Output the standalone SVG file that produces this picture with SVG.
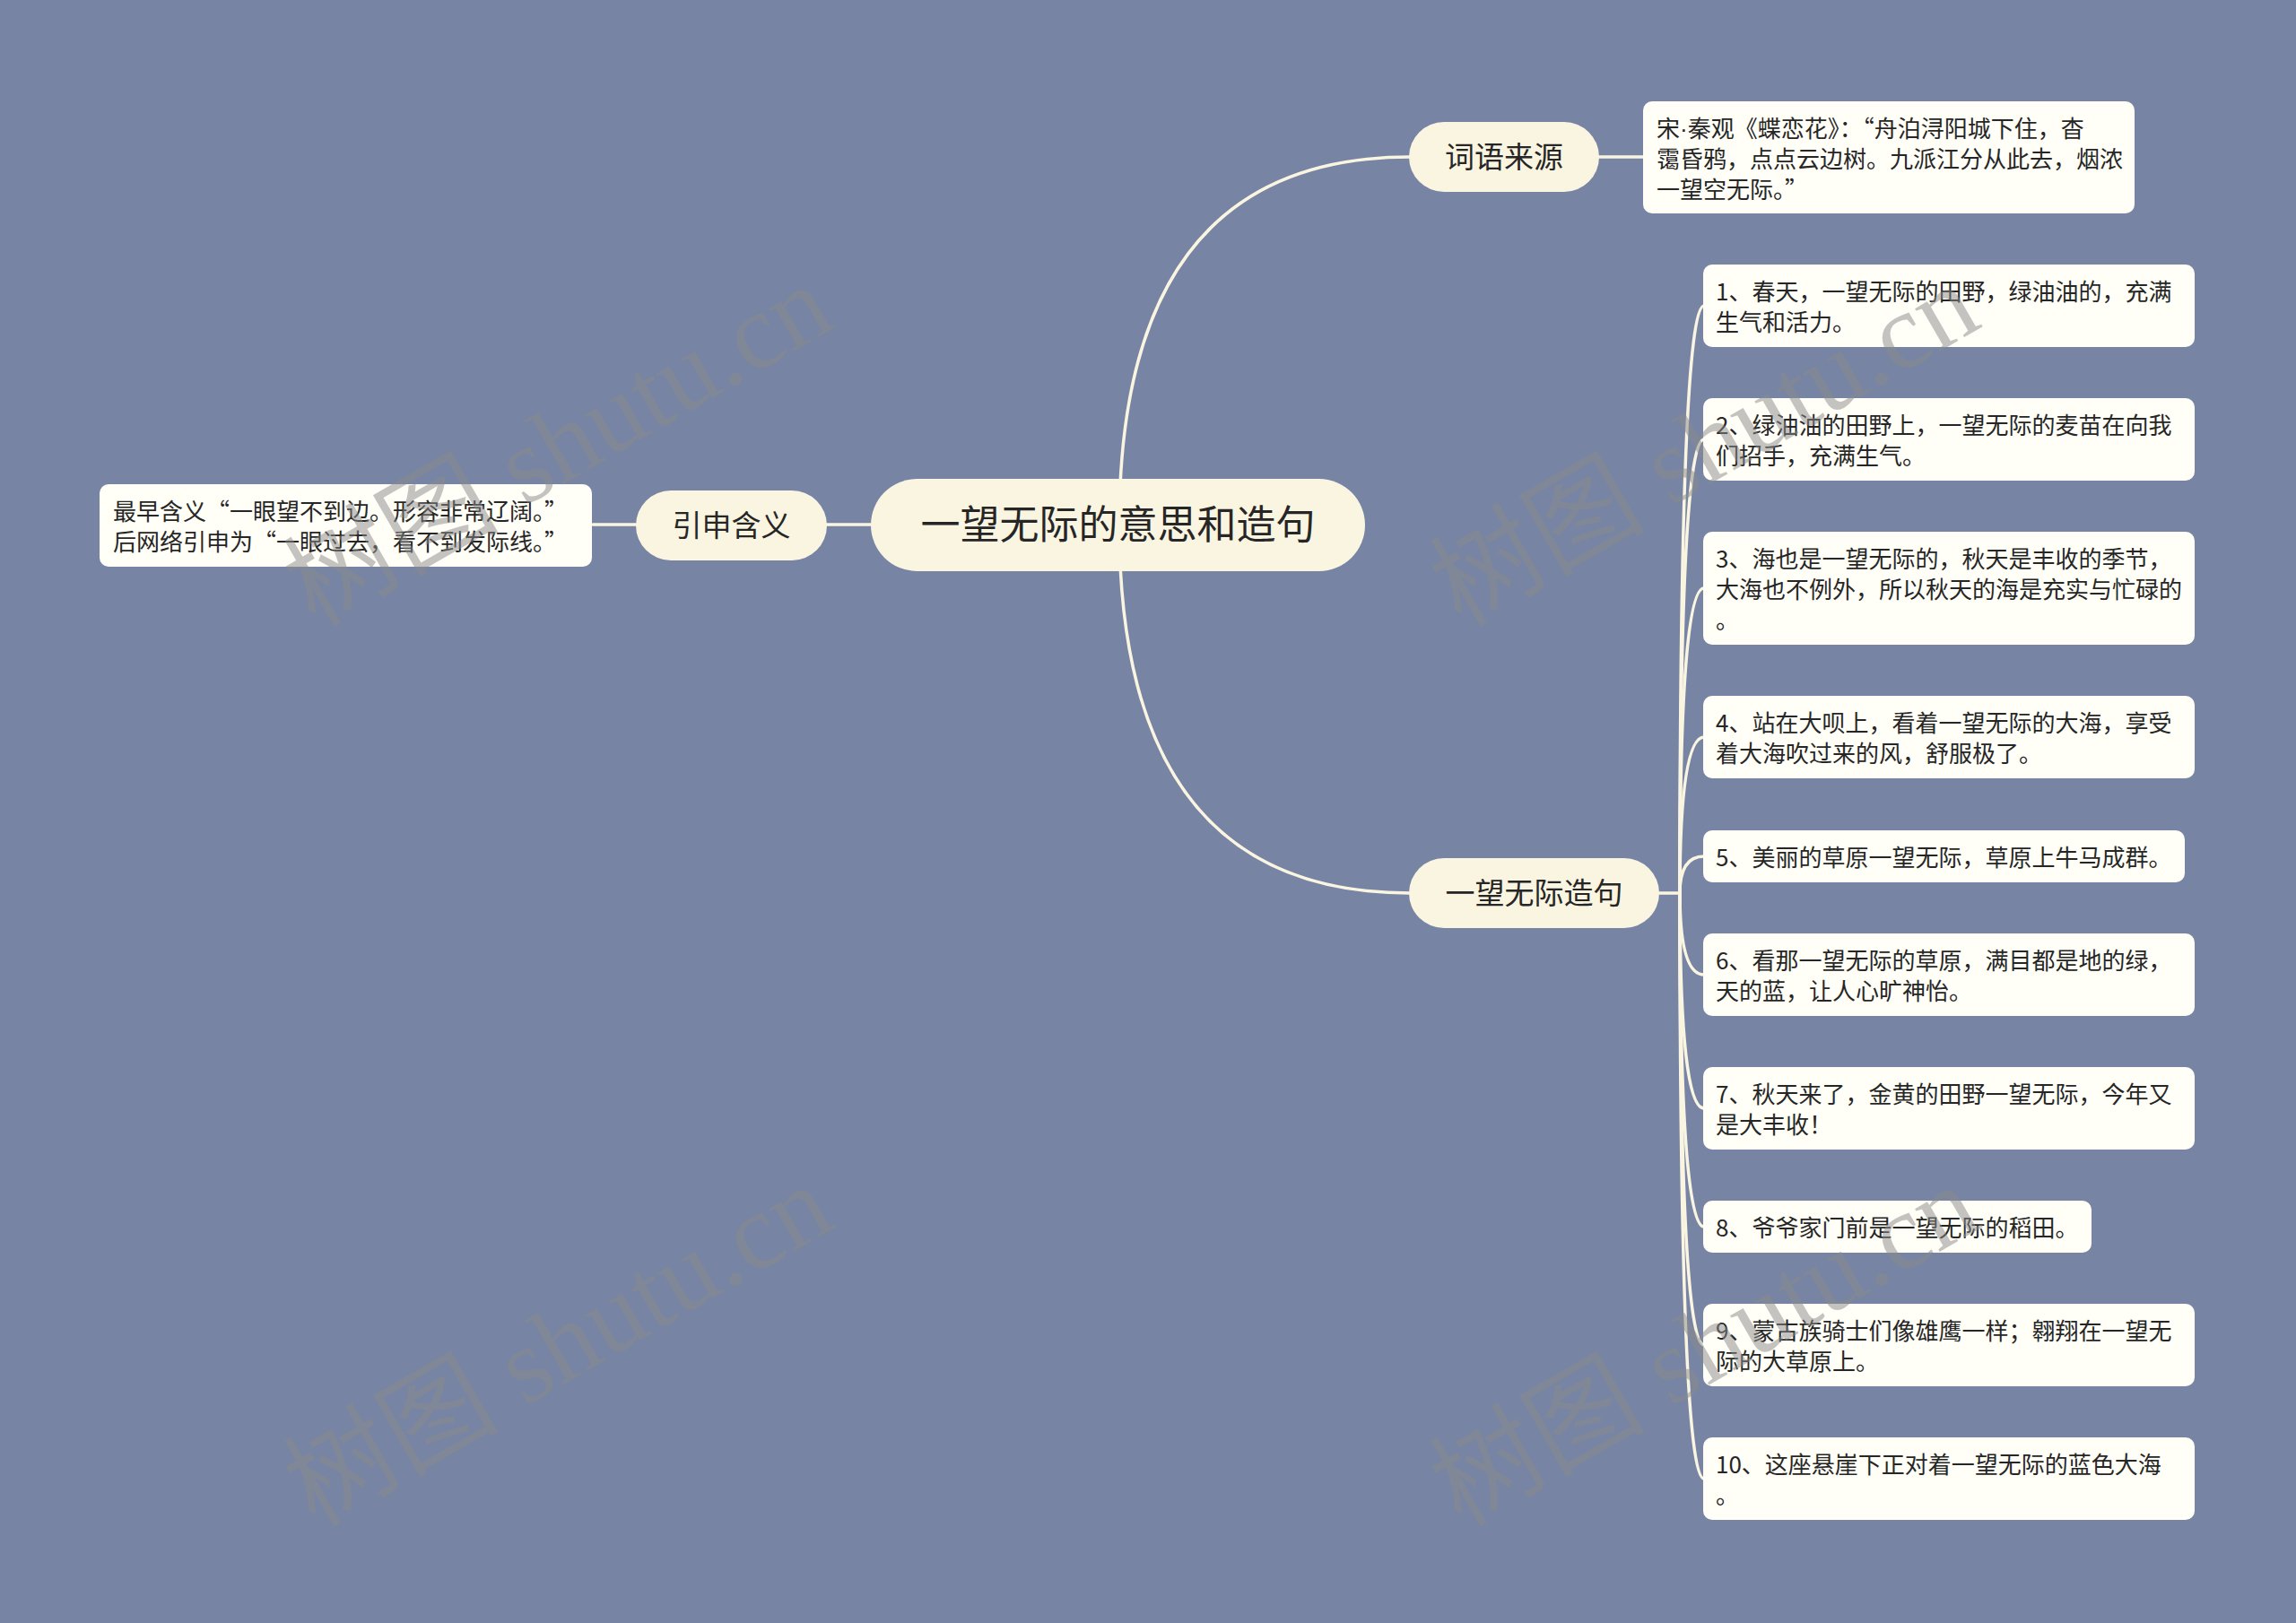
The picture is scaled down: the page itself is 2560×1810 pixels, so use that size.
<svg xmlns="http://www.w3.org/2000/svg" width="2560" height="1810" viewBox="0 0 2560 1810">
<style>
.bg{fill:#7784a4}
.pill{fill:#faf5e1}
.leaf{fill:#fffef7}
.conn{fill:none;stroke:#faf5e1;stroke-width:3.5;stroke-linecap:round}
.t{font-family:"Noto Sans CJK SC","Liberation Sans",sans-serif;fill:#262626}
.lat{font-family:"Liberation Sans",sans-serif}
.root{font-size:44px}
.br{font-size:33px}
.lf{font-size:26px}
.wm{font-family:"Liberation Serif","Noto Sans CJK SC",serif;font-size:120px;fill:#8a8a8a;opacity:0.5}
</style>
<rect class="bg" x="0" y="0" width="2560" height="1810"/>

<g id="connectors">
  <path class="conn" d="M1248,585 Q1248,175 1572,175"/>
  <path class="conn" d="M1248,585 Q1248,996 1572,996"/>
  <path class="conn" d="M922,585 L971,585"/>
  <path class="conn" d="M661,585 L709,585"/>
  <path class="conn" d="M1783,175 L1832,175"/>
  <path class="conn" d="M1850,996 L1873,996"/>
  <path class="conn" d="M1873,996 Q1873,341 1900,341"/>
  <path class="conn" d="M1873,996 Q1873,490 1900,490"/>
  <path class="conn" d="M1873,996 Q1873,656 1900,656"/>
  <path class="conn" d="M1873,996 Q1873,822 1900,822"/>
  <path class="conn" d="M1873,996 Q1873,955 1900,955"/>
  <path class="conn" d="M1873,996 Q1873,1087 1900,1087"/>
  <path class="conn" d="M1873,996 Q1873,1236 1900,1236"/>
  <path class="conn" d="M1873,996 Q1873,1368 1900,1368"/>
  <path class="conn" d="M1873,996 Q1873,1500 1900,1500"/>
  <path class="conn" d="M1873,996 Q1873,1649 1900,1649"/>
</g>

<g id="root">
  <rect class="pill" x="971" y="534" width="551" height="103" rx="51.5"/>
  <text class="t root" x="1246.5" y="601" text-anchor="middle">一望无际的意思和造句</text>
</g>

<g id="n-yinshen">
  <rect class="pill" x="709" y="547" width="213" height="78" rx="39"/>
  <text class="t br" x="815.5" y="598" text-anchor="middle">引申含义</text>
</g>
<g id="leaf-yinshen">
  <rect class="leaf" x="111" y="540" width="549" height="92" rx="10"/>
  <text class="t lf" x="126" y="580">最早含义“一眼望不到边。形容非常辽阔。”</text>
  <text class="t lf" x="126" y="614">后网络引申为“一眼过去，看不到发际线。”</text>
</g>

<g id="n-laiyuan">
  <rect class="pill" x="1571" y="136" width="212" height="78" rx="39"/>
  <text class="t br" x="1677" y="187" text-anchor="middle">词语来源</text>
</g>
<g id="leaf-laiyuan">
  <rect class="leaf" x="1832" y="113" width="548" height="125" rx="10"/>
  <text class="t lf" x="1847" y="153">宋<tspan class="lat">·</tspan>秦观《蝶恋花》：“舟泊浔阳城下住，杳</text>
  <text class="t lf" x="1847" y="187">霭昏鸦，点点云边树。九派江分从此去，烟浓</text>
  <text class="t lf" x="1847" y="221">一望空无际。”</text>
</g>

<g id="n-zaoju">
  <rect class="pill" x="1571" y="957" width="279" height="78" rx="39"/>
  <text class="t br" x="1710.5" y="1008" text-anchor="middle">一望无际造句</text>
</g>

<g id="s1">
  <rect class="leaf" x="1899" y="295" width="548" height="92" rx="10"/>
  <text class="t lf" x="1913" y="335">1、春天，一望无际的田野，绿油油的，充满</text>
  <text class="t lf" x="1913" y="369">生气和活力。</text>
</g>
<g id="s2">
  <rect class="leaf" x="1899" y="444" width="548" height="92" rx="10"/>
  <text class="t lf" x="1913" y="484">2、绿油油的田野上，一望无际的麦苗在向我</text>
  <text class="t lf" x="1913" y="518">们招手，充满生气。</text>
</g>
<g id="s3">
  <rect class="leaf" x="1899" y="593" width="548" height="126" rx="10"/>
  <text class="t lf" x="1913" y="633">3、海也是一望无际的，秋天是丰收的季节，</text>
  <text class="t lf" x="1913" y="667">大海也不例外，所以秋天的海是充实与忙碌的</text>
  <text class="t lf" x="1913" y="701">。</text>
</g>
<g id="s4">
  <rect class="leaf" x="1899" y="776" width="548" height="92" rx="10"/>
  <text class="t lf" x="1913" y="816">4、站在大呗上，看着一望无际的大海，享受</text>
  <text class="t lf" x="1913" y="850">着大海吹过来的风，舒服极了。</text>
</g>
<g id="s5">
  <rect class="leaf" x="1899" y="926" width="537" height="58" rx="10"/>
  <text class="t lf" x="1913" y="966">5、美丽的草原一望无际，草原上牛马成群。</text>
</g>
<g id="s6">
  <rect class="leaf" x="1899" y="1041" width="548" height="92" rx="10"/>
  <text class="t lf" x="1913" y="1081">6、看那一望无际的草原，满目都是地的绿，</text>
  <text class="t lf" x="1913" y="1115">天的蓝，让人心旷神怡。</text>
</g>
<g id="s7">
  <rect class="leaf" x="1899" y="1190" width="548" height="92" rx="10"/>
  <text class="t lf" x="1913" y="1230">7、秋天来了，金黄的田野一望无际，今年又</text>
  <text class="t lf" x="1913" y="1264">是大丰收！</text>
</g>
<g id="s8">
  <rect class="leaf" x="1899" y="1339" width="433" height="58" rx="10"/>
  <text class="t lf" x="1913" y="1379">8、爷爷家门前是一望无际的稻田。</text>
</g>
<g id="s9">
  <rect class="leaf" x="1899" y="1454" width="548" height="92" rx="10"/>
  <text class="t lf" x="1913" y="1494">9、蒙古族骑士们像雄鹰一样；翱翔在一望无</text>
  <text class="t lf" x="1913" y="1528">际的大草原上。</text>
</g>
<g id="s10">
  <rect class="leaf" x="1899" y="1603" width="548" height="92" rx="10"/>
  <text class="t lf" x="1913" y="1643">10、这座悬崖下正对着一望无际的蓝色大海</text>
  <text class="t lf" x="1913" y="1677">。</text>
</g>

<g id="watermarks">
  <text class="wm" transform="translate(351,700) rotate(-30)">树图 shutu.cn</text>
  <text class="wm" transform="translate(1629,700) rotate(-30)">树图 shutu.cn</text>
  <text class="wm" transform="translate(351,1704) rotate(-30)">树图 shutu.cn</text>
  <text class="wm" transform="translate(1629,1704) rotate(-30)">树图 shutu.cn</text>
</g>
</svg>
